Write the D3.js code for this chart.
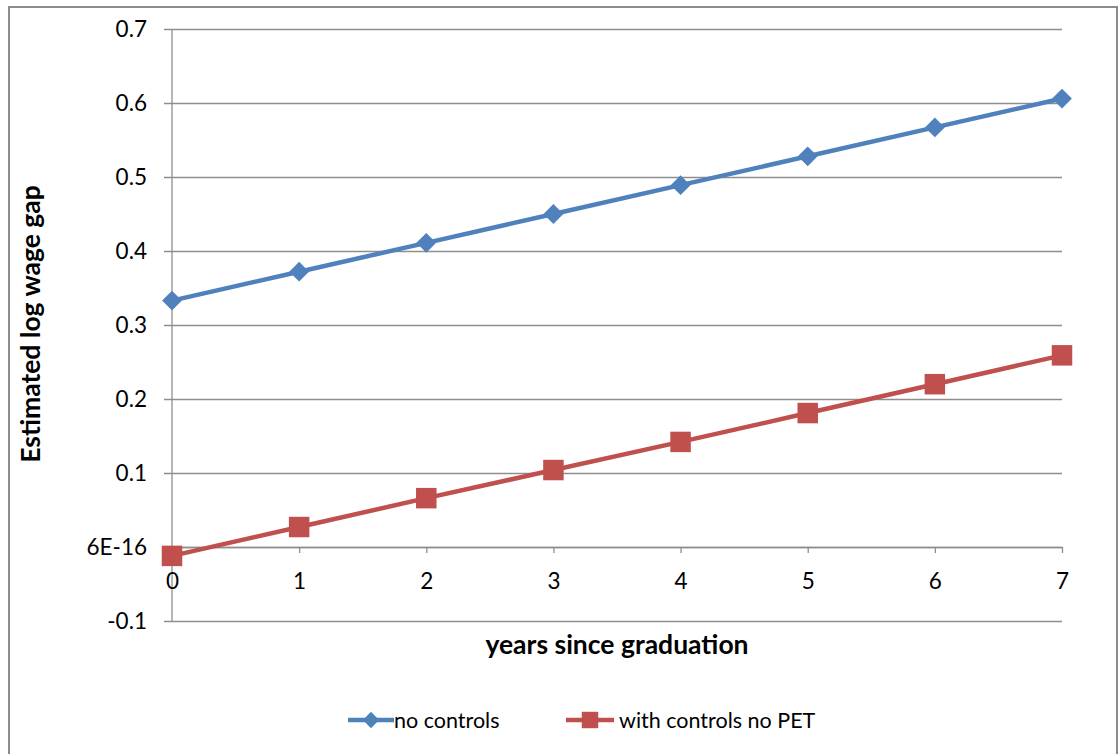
<!DOCTYPE html>
<html>
<head>
<meta charset="utf-8">
<script src="https://cdn.jsdelivr.net/npm/d3@7"></script>
<style>
  html, body { margin: 0; padding: 0; background: #fff; }
  svg text { font-family: "Lato", "Open Sans", sans-serif; fill: #000; }
</style>
</head>
<body>
<svg id="chart" width="1119" height="754"></svg>
<script>
// Years since graduation (x axis)
const years = [0, 1, 2, 3, 4, 5, 6, 7];
// Estimated log wage gap, by specification
const noControls = [0.333, 0.372, 0.411, 0.450, 0.489, 0.528, 0.567, 0.606];
const withControlsNoPET = [-0.012, 0.027, 0.066, 0.104, 0.142, 0.181, 0.220, 0.259];
// Y tick values and their labels (the zero label is printed as Excel did)
const yTicks = [-0.1, 0, 0.1, 0.2, 0.3, 0.4, 0.5, 0.6, 0.7];
const yTickLabels = ["-0.1", "6E-16", "0.1", "0.2", "0.3", "0.4", "0.5", "0.6", "0.7"];
const seriesNames = ["no controls", "with controls no PET"];
const seriesColors = ["#4F81BD", "#C0504D"];

const svg = d3.select("#chart");

// outer chart frame
svg.append("rect")
  .attr("x", 9).attr("y", 7).attr("width", 1108).attr("height", 760)
  .attr("fill", "#fff").attr("stroke", "#8c8c8c").attr("stroke-width", 2);

const x = d3.scaleLinear().domain([0, 7]).range([172, 1062]);
const y = d3.scaleLinear().domain([-0.1, 0.7]).range([621, 29]);

// horizontal gridlines, extended left of the axis as short ticks
const gridLen = 1062 - 164;
const gy = svg.append("g")
  .attr("transform", "translate(1062,0)")
  .call(d3.axisLeft(y).tickValues(yTicks).tickSize(gridLen).tickFormat((d, i) => yTickLabels[i]));
gy.select(".domain").remove();
gy.selectAll(".tick line").attr("stroke", "#8e8e8e").attr("stroke-width", 1.3);
gy.selectAll(".tick text")
  .attr("x", -gridLen - 17)
  .attr("font-size", 22.5)
  .style("font-family", "Lato, 'Open Sans', sans-serif");

// vertical value axis line
svg.append("line")
  .attr("x1", x(0)).attr("x2", x(0))
  .attr("y1", y(0.7)).attr("y2", y(-0.1))
  .attr("stroke", "#8e8e8e").attr("stroke-width", 1.3);

// category axis drawn along zero
const gx = svg.append("g")
  .attr("transform", `translate(0,${y(0)})`)
  .call(d3.axisBottom(x).tickValues(years).tickSize(6).tickSizeOuter(0).tickFormat(d3.format("d")));
gx.select(".domain").attr("stroke", "#8e8e8e").attr("stroke-width", 1.3);
gx.selectAll(".tick line").attr("stroke", "#8e8e8e").attr("stroke-width", 1.3);
gx.selectAll(".tick text")
  .attr("y", 26)
  .attr("font-size", 22.5)
  .style("font-family", "Lato, 'Open Sans', sans-serif");

// axis titles
svg.append("text")
  .attr("x", 617).attr("y", 654)
  .attr("text-anchor", "middle")
  .attr("font-size", 26.5).attr("font-weight", "bold")
  .text("years since graduation");

svg.append("text")
  .attr("transform", `translate(40,324) rotate(-90)`)
  .attr("text-anchor", "middle")
  .attr("font-size", 26.5).attr("font-weight", "bold")
  .text("Estimated log wage gap");

// series lines and markers
const series = [noControls, withControlsNoPET];
const line = d3.line().x((d, i) => x(years[i])).y(d => y(d));
const shapes = [
  d3.symbol().type(d3.symbolDiamond2).size(250),
  d3.symbol().type(d3.symbolSquare).size(420)
];

series.forEach((vals, si) => {
  svg.append("path")
    .datum(vals)
    .attr("d", line)
    .attr("fill", "none")
    .attr("stroke", seriesColors[si])
    .attr("stroke-width", 4.5)
    .attr("stroke-linejoin", "round");
  svg.selectAll(null)
    .data(vals)
    .join("path")
    .attr("transform", (d, i) => `translate(${x(years[i])},${y(d)})`)
    .attr("d", shapes[si]())
    .attr("fill", seriesColors[si]);
});

// legend
const legendItems = [
  { lx: 348, w: 46, tx: 394 },
  { lx: 566, w: 48, tx: 619 }
];
const legendShapes = [
  d3.symbol().type(d3.symbolDiamond2).size(170),
  d3.symbol().type(d3.symbolSquare).size(270)
];
legendItems.forEach((it, i) => {
  const g = svg.append("g").attr("transform", "translate(0,720)");
  g.append("line")
    .attr("x1", it.lx).attr("x2", it.lx + it.w)
    .attr("y1", 0).attr("y2", 0)
    .attr("stroke", seriesColors[i]).attr("stroke-width", 4.5);
  g.append("path")
    .attr("transform", `translate(${it.lx + it.w / 2},0)`)
    .attr("d", legendShapes[i]())
    .attr("fill", seriesColors[i]);
  g.append("text")
    .attr("x", it.tx).attr("y", 8)
    .attr("font-size", 21.5)
    .text(seriesNames[i]);
});
</script>
</body>
</html>
